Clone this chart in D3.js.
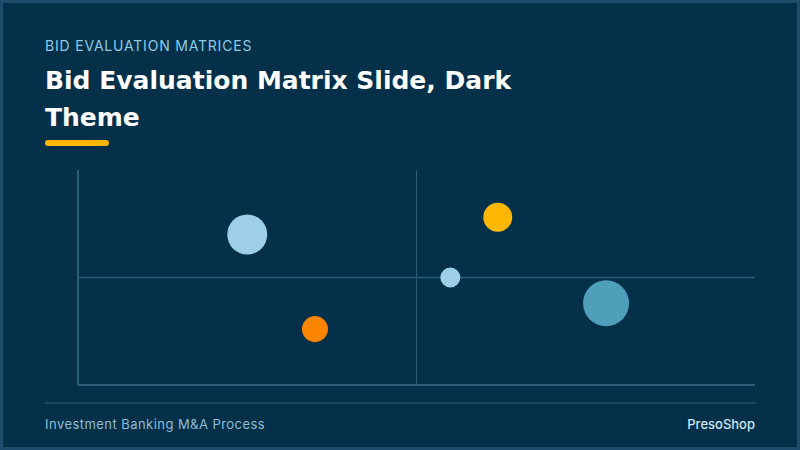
<!DOCTYPE html>
<html>
<head>
<meta charset="utf-8">
<script src="https://cdn.jsdelivr.net/npm/d3@7"></script>
<style>
  html,body{margin:0;padding:0;background:#023047;}
  svg{display:block;}
</style>
</head>
<body>
<script>
// bids: position on the matrix (0-100) and bubble size
var bidNames=["Bid A","Bid B","Bid C","Bid D","Bid E"]
var xValues=[25,35,62,55,78]
var yValues=[70,26,78,50,38]
var sizeValues=[40,17,21,10,53]
var bubbleColors=["#9dd0e8","#fb8500","#ffb703","#9dd0e8","#4f9fbb"]

var screen={width:800,height:450}
var margins={top:170,right:45,bottom:65,left:78}
var width=screen.width-margins.left-margins.right
var height=screen.height-margins.top-margins.bottom

var svg=d3.select("body").append("svg")
          .attr("width",screen.width)
          .attr("height",screen.height)

svg.append("rect")
   .attr("x",1.5).attr("y",1.5)
   .attr("width",screen.width-3).attr("height",screen.height-3)
   .attr("fill","#04304a")
   .attr("stroke","#1d4d6a")
   .attr("stroke-width",3)

svg.append("text")
   .attr("x",45).attr("y",51)
   .attr("fill","#8ecae6")
   .attr("font-family","Inter, 'Open Sans', sans-serif")
   .attr("font-size",14)
   .attr("letter-spacing",0.8)
   .text("BID EVALUATION MATRICES")

var title=svg.append("text")
   .attr("fill","#ffffff")
   .attr("font-family","'DejaVu Sans', sans-serif")
   .attr("font-weight",700)
   .attr("font-size",25)
title.append("tspan").attr("x",45).attr("y",89).text("Bid Evaluation Matrix Slide, Dark")
title.append("tspan").attr("x",45).attr("y",126).text("Theme")

svg.append("rect")
   .attr("x",45).attr("y",140)
   .attr("width",64).attr("height",6)
   .attr("rx",3)
   .attr("fill","#ffb703")

var xScale=d3.scaleLinear().domain([0,100]).range([0,width])
var yScale=d3.scaleLinear().domain([0,100]).range([height,0])
var rScale=d3.scaleSqrt().domain([0,d3.max(sizeValues)]).range([0,23])

var plot=svg.append("g")
            .attr("transform","translate("+margins.left+","+margins.top+")")

// quadrant dividers
plot.append("line")
    .attr("x1",xScale(50)).attr("x2",xScale(50))
    .attr("y1",0).attr("y2",height)
    .attr("stroke","#2a5a75").attr("stroke-width",1)
plot.append("line")
    .attr("x1",0).attr("x2",width)
    .attr("y1",yScale(50)).attr("y2",yScale(50))
    .attr("stroke","#2a5a75").attr("stroke-width",1.5)

// axes
plot.append("line")
    .attr("x1",0).attr("x2",0)
    .attr("y1",0).attr("y2",height)
    .attr("stroke","#2c5d78").attr("stroke-width",2)
plot.append("line")
    .attr("x1",0).attr("x2",width)
    .attr("y1",height).attr("y2",height)
    .attr("stroke","#2c5d78").attr("stroke-width",2)

plot.selectAll("circle")
    .data(bidNames)
    .enter()
    .append("circle")
    .attr("cx",function(d,i){return xScale(xValues[i]);})
    .attr("cy",function(d,i){return yScale(yValues[i]);})
    .attr("r",function(d,i){return rScale(sizeValues[i]);})
    .attr("fill",function(d,i){return bubbleColors[i];})

// footer
svg.append("line")
   .attr("x1",45).attr("x2",756)
   .attr("y1",403).attr("y2",403)
   .attr("stroke","#1f5069").attr("stroke-width",1.5)
svg.append("text")
   .attr("x",45).attr("y",429)
   .attr("fill","#8fbdd4")
   .attr("font-family","Inter, 'Open Sans', sans-serif")
   .attr("font-size",13)
   .attr("letter-spacing",0.45)
   .text("Investment Banking M&A Process")
svg.append("text")
   .attr("x",755).attr("y",429)
   .attr("text-anchor","end")
   .attr("fill","#cfe7f3")
   .attr("font-family","Inter, 'Open Sans', sans-serif")
   .attr("font-weight",500)
   .attr("font-size",13)
   .text("PresoShop")
</script>
</body>
</html>
